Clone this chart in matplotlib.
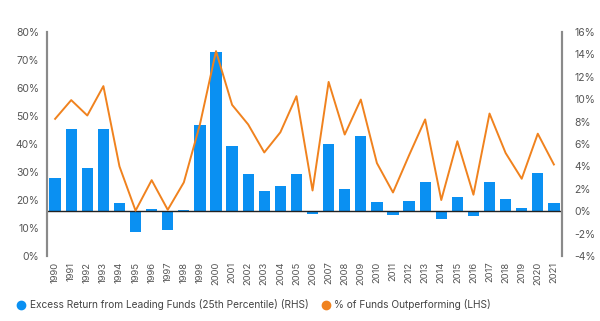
import numpy as np
import matplotlib.pyplot as plt
from matplotlib.lines import Line2D

plt.rcParams['font.family'] = ['Inter', 'DejaVu Sans']

years = [str(y) for y in range(1990, 2022)]

# Excess return from leading funds, 25th percentile (right axis, %)
excess_return = [3.0, 7.3, 3.9, 7.3, 0.75, -1.85, 0.2, -1.65, 0.1, 7.7,
                 14.2, 5.8, 3.3, 1.85, 2.25, 3.3, -0.25, 6.0, 2.0, 6.7,
                 0.8, -0.35, 0.95, 2.65, -0.7, 1.3, -0.45, 2.65, 1.1, 0.3,
                 3.45, 0.75]

# % of funds outperforming (left axis)
pct_outperforming = [49, 55.7, 50.2, 60.7, 32, 16.2, 27.1, 16.5, 26.3, 47,
                     73.2, 54, 47, 37, 44.2, 57.1, 23.4, 62.2, 43.4, 55.9,
                     33.2, 22.7, 36, 48.8, 20, 41, 21.9, 50.9, 36.8, 27.6,
                     43.7, 32.7]

blue = '#0A90F2'
orange = '#F0821E'
grey = '#555555'

fig = plt.figure(figsize=(6, 3.21), dpi=100)
ax = fig.add_axes([0.079, 0.2025, 0.857, 0.6975])
ax2 = ax.twinx()

x = np.arange(len(years))

# bars on the right axis, line on the left axis
ax2.bar(x, excess_return, width=0.7, color=blue, zorder=2)
ax2.axhline(0, color='#222222', lw=1, zorder=3)
ax.plot(x, pct_outperforming, color=orange, lw=1.4, zorder=4)

# line has to sit above the bars
ax.set_zorder(ax2.get_zorder() + 1)
ax.patch.set_visible(False)

ax.set_ylim(0, 80)
ax.set_yticks(range(0, 81, 10))
ax.set_yticklabels([f'{v}%' for v in range(0, 81, 10)])
ax2.set_ylim(-4, 16)
ax2.set_yticks(range(-4, 17, 2))
ax2.set_yticklabels([f'{v}%' for v in range(-4, 17, 2)])

ax.set_xlim(-0.48, len(years) - 0.52)
ax.set_xticks(x)
ax.set_xticklabels(years, rotation=90)

for a in (ax, ax2):
    for s in ('top', 'bottom'):
        a.spines[s].set_visible(False)
    a.spines['left'].set_color('#8a8a8a')
    a.spines['right'].set_color('#8a8a8a')
    a.spines['left'].set_linewidth(1.5)
    a.spines['right'].set_linewidth(1.5)
    a.tick_params(length=0, labelsize=7.5, colors=grey)

ax.tick_params(axis='y', pad=6)
ax2.tick_params(axis='y', pad=9)
ax.tick_params(axis='x', pad=4, labelsize=6.8)

handles = [
    Line2D([], [], marker='o', ls='', color=blue, markersize=6),
    Line2D([], [], marker='o', ls='', color=orange, markersize=6),
]
labels = ['Excess Return from Leading Funds (25th Percentile) (RHS)',
          '% of Funds Outperforming (LHS)']
fig.legend(handles, labels, loc='center left', bbox_to_anchor=(0.008, 0.05),
           ncol=2, frameon=False, fontsize=7.3, handletextpad=0.15,
           handlelength=1.4, columnspacing=1.0, labelcolor='#444444')

fig.savefig('out.png', dpi=100)
